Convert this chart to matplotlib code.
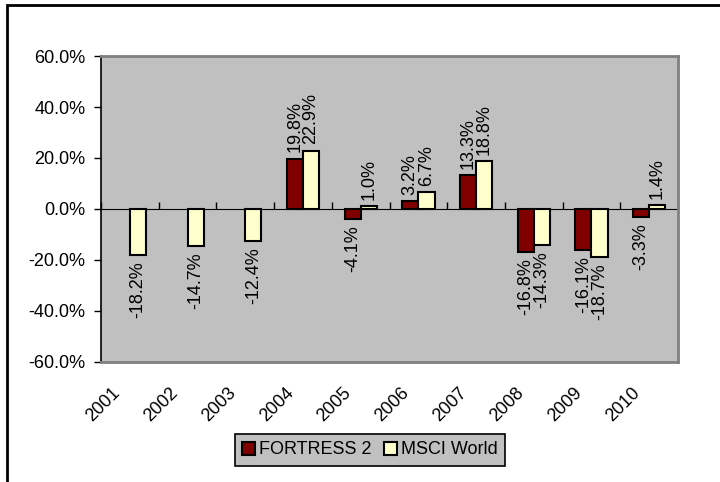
import numpy as np
import matplotlib
matplotlib.use("Agg")
from matplotlib import pyplot as plt
from matplotlib.patches import Rectangle
from matplotlib.ticker import FuncFormatter
from matplotlib.transforms import ScaledTranslation

years = ["2001", "2002", "2003", "2004", "2005", "2006", "2007", "2008", "2009", "2010"]
fortress = [np.nan, np.nan, np.nan, 19.8, -4.1, 3.2, 13.3, -16.8, -16.1, -3.3]
msci = [-18.2, -14.7, -12.4, 22.9, 1.0, 6.7, 18.8, -14.3, -18.7, 1.4]
yticks = [-60, -40, -20, 0, 20, 40, 60]

plt.rcParams["font.family"] = ["Liberation Sans", "DejaVu Sans"]
plt.rcParams["font.size"] = 13

fig = plt.figure(figsize=(7.2, 4.82), dpi=100)
ax = fig.add_axes([0.1403, 0.249, 0.8014, 0.6348])
ax.set_facecolor("#C0C0C0")

x = np.arange(len(years))
w = 0.28
b1 = ax.bar(x - w / 2, fortress, w, color="#800000", edgecolor="black", linewidth=1.5, label="FORTRESS 2", zorder=3)
b2 = ax.bar(x + w / 2, msci, w, color="#FFFFCC", edgecolor="black", linewidth=1.5, label="MSCI World", zorder=3)

# value labels, rotated like Excel
for bars, vals in ((b1, fortress), (b2, msci)):
    for rect, v in zip(bars, vals):
        if np.isnan(v):
            continue
        cx = rect.get_x() + rect.get_width() / 2
        off = 4.5 if v >= 0 else -4.5
        ax.annotate(f"{v:.1f}%", (cx, v), xytext=(0, off), textcoords="offset points",
                    rotation=90, ha="center", va="bottom" if v >= 0 else "top", zorder=4)

ax.set_xlim(-0.5, len(years) - 0.5)
ax.set_ylim(-60, 60)
ax.set_yticks(yticks)
ax.yaxis.set_major_formatter(FuncFormatter(lambda v, p: f"{v:.1f}%"))
ax.tick_params(axis="y", direction="out", length=5, width=1, pad=6)

ax.set_xticks(x)
ax.set_xticklabels(years, rotation=45, ha="right", rotation_mode="anchor")
ax.tick_params(axis="x", length=0, pad=16)
shift = ScaledTranslation(-13 / 72, 0, fig.dpi_scale_trans)
for lab in ax.get_xticklabels():
    lab.set_transform(lab.get_transform() + shift)

for side in ("top", "right", "bottom"):
    ax.spines[side].set_color("#808080")
    ax.spines[side].set_linewidth(2)
ax.spines["left"].set_color("black")
ax.spines["left"].set_linewidth(1.2)

# category axis crossing at 0
sec = ax.secondary_xaxis(0.5)
sec.set_xticks(np.arange(len(years) + 1) - 0.5)
sec.set_xticklabels([])
sec.tick_params(direction="out", length=5, width=1)
sec.spines["bottom"].set_linewidth(1.2)

leg = fig.legend(handles=[b1, b2], loc="center", bbox_to_anchor=(370 / 720, 1 - 450 / 482),
                 ncol=2, frameon=True, fancybox=False, facecolor="#C0C0C0", edgecolor="black",
                 handlelength=0.7, handleheight=0.7, handletextpad=0.25, columnspacing=0.7,
                 borderpad=0.4, borderaxespad=0)
leg.get_frame().set_linewidth(1.2)
leg.get_frame().set_alpha(1)

fig.patches.append(Rectangle((7 / 720, -0.1), 1.2, 1.1 - 5 / 482, transform=fig.transFigure,
                             fill=False, edgecolor="black", linewidth=2))

fig.savefig("out.png", dpi=100)
